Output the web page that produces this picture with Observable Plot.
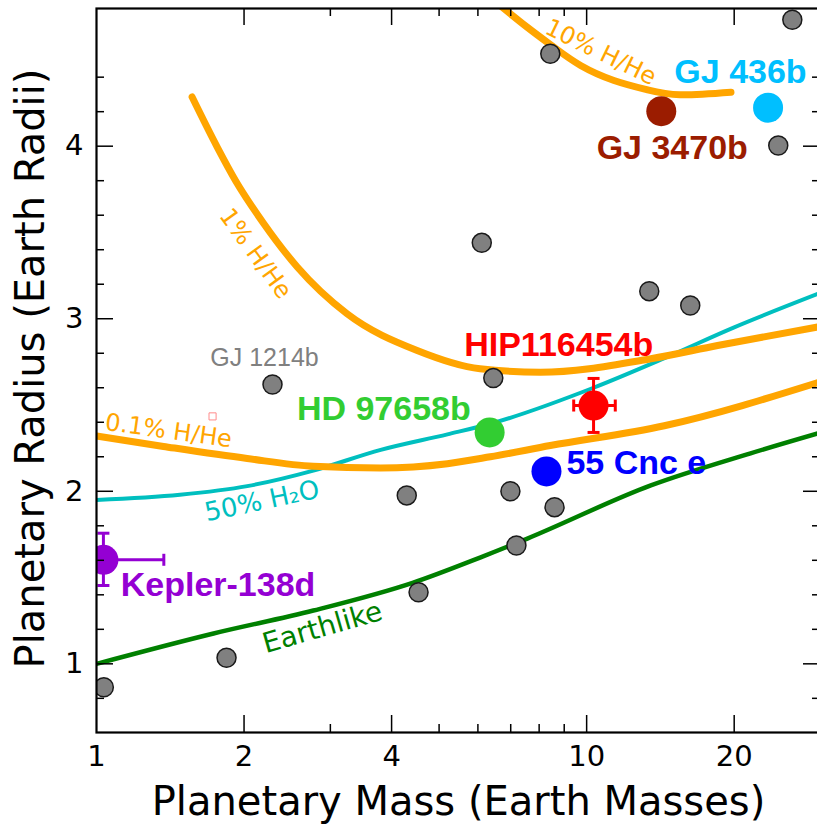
<!DOCTYPE html>
<html>
<head>
<meta charset="utf-8">
<script src="https://cdn.jsdelivr.net/npm/d3@7"></script>
<script src="https://cdn.jsdelivr.net/npm/@observablehq/plot@0.6"></script>
<style>
  html, body { margin: 0; padding: 0; background: white; }
</style>
</head>
<body>
<div id="chart"></div>
<script>
// ---------- axis ticks ----------
const massTicks = [1, 2, 4, 10, 20];
const massMajor = [2, 4, 10, 20];
const massMinor = [3, 5, 6, 7, 8, 9];
const radiusTicks = [1, 2, 3, 4];
const radiusMinor = [0.8, 1.2, 1.4, 1.6, 1.8, 2.2, 2.4, 2.6, 2.8, 3.2, 3.4, 3.6, 3.8, 4.2, 4.4];

// ---------- model curves ----------
const earthMass   = [1, 1.733, 2.77, 4.43, 6.06, 7.57, 13.52, 21.6, 30];
const earthRadius = [1.0, 1.176, 1.309, 1.471, 1.616, 1.726, 2.034, 2.22, 2.34];

const waterMass   = [1, 1.48, 2.03, 2.77, 3.8, 5.2, 6.34, 10.33, 14.37, 20, 30];
const waterRadius = [1.95, 1.98, 2.03, 2.12, 2.24, 2.33, 2.39, 2.60, 2.77, 2.95, 3.15];

const hhe01Mass   = [1, 1.37, 2.03, 2.77, 3.8, 5.2, 6.36, 8.43, 14.4, 30];
const hhe01Radius = [2.32, 2.26, 2.19, 2.145, 2.135, 2.16, 2.20, 2.265, 2.38, 2.635];

const hhe1Mass    = [1.567, 1.763, 1.922, 2.195, 2.568, 3.245, 4.51, 6.06, 8.05, 13.52, 18.5, 30];
const hhe1Radius  = [4.285, 3.995, 3.80, 3.551, 3.30, 3.029, 2.816, 2.71, 2.69, 2.768, 2.845, 2.955];

const hhe10Mass   = [6.5, 7.56, 8.57, 9.72, 11.37, 13.3, 15.5, 19.7];
const hhe10Radius = [4.84, 4.69, 4.574, 4.468, 4.381, 4.327, 4.298, 4.313];

// ---------- other known planets (grey) ----------
const greyMass   = [1.035, 1.842, 2.286, 4.295, 4.54, 6.11, 6.45, 6.99, 7.19, 8.43, 8.60, 13.42, 16.27, 24.6, 26.28];
const greyRadius = [0.864, 1.035, 2.619, 1.976, 1.415, 3.44, 2.656, 2.0, 1.686, 4.536, 1.908, 3.16, 3.077, 4.004, 4.733];

// ---------- highlighted planets ----------
const planetNames  = ["GJ 436b", "GJ 3470b", "HIP116454b", "HD 97658b", "55 Cnc e", "Kepler-138d"];
const planetMass   = [23.45, 14.2, 10.33, 6.34, 8.28, 1.033];
const planetRadius = [4.223, 4.203, 2.497, 2.341, 2.115, 1.603];
const planetColors = ["#00bfff", "#9b1c00", "#ff0000", "#32cd32", "#0000ff", "#9400d3"];
const labelMass    = [20.6, 14.95, 8.77, 3.857, 12.63, 1.77];
const labelRadius  = [4.427, 3.987, 2.845, 2.474, 2.164, 1.454];

// error bars (HIP116454b, Kepler-138d)
const errNames     = ["HIP116454b", "Kepler-138d"];
const errMass      = [10.33, 1.033];
const errRadius    = [2.497, 1.603];
const errMassLo    = [9.41, 0.5];
const errMassHi    = [11.44, 1.372];
const errRadiusLo  = [2.341, 1.454];
const errRadiusHi  = [2.654, 1.757];
const errColors    = ["#ff0000", "#9400d3"];

// GJ 1214b label
const gjLabel = ["GJ 1214b"];
const gjLabelMass = [2.202];
const gjLabelRadius = [2.773];

// curve labels
const curveLabels      = ["10% H/He", "1% H/He", "0.1% H/He", "50% H\u2082O", "Earthlike"];
const curveLabelMass   = [10.68, 2.11, 1.403, 2.177, 2.892];
const curveLabelRadius = [4.545, 3.377, 2.35, 1.943, 1.21];
const curveLabelAngle  = [26, 54, 8, -12, -16];
const curveLabelColor  = ["#ffa500", "#ffa500", "#ffa500", "#00bfbf", "#008000"];
const curveLabelSize   = [24, 24, 24, 26, 28];

// small marker near 0.1% label
const markMass = [1.725];
const markRadius = [2.434];

// ---------- build tables ----------
const rows = (ms, rs) => ms.map((m, i) => ({m, r: rs[i]}));
const planets = planetNames.map((name, i) => ({name, m: planetMass[i], r: planetRadius[i], color: planetColors[i], lm: labelMass[i], lr: labelRadius[i]}));
const errs = errNames.map((name, i) => ({name, m: errMass[i], r: errRadius[i], mlo: errMassLo[i], mhi: errMassHi[i], rlo: errRadiusLo[i], rhi: errRadiusHi[i], color: errColors[i]}));
const curveLab = curveLabels.map((t, i) => ({t, m: curveLabelMass[i], r: curveLabelRadius[i], a: curveLabelAngle[i], c: curveLabelColor[i], s: curveLabelSize[i]}));

const W = 817, H = 824;
const mL = 96, mT = 8, mB = 92, mR = -3;
const fW = W - mL - mR, fH = H - mT - mB;

const vcap = {draw(ctx, size) { const r = Math.sqrt(size / Math.PI); ctx.moveTo(0, -r); ctx.lineTo(0, r); }};
const hcap = {draw(ctx, size) { const r = Math.sqrt(size / Math.PI); ctx.moveTo(-r, 0); ctx.lineTo(r, 0); }};

const sans = "DejaVu Sans";
const arial = "Liberation Sans, Arial, sans-serif";

const chart = Plot.plot({
  width: W, height: H,
  marginLeft: mL, marginTop: mT, marginBottom: mB, marginRight: mR,
  style: {fontFamily: sans, background: "white", overflow: "hidden"},
  x: {type: "log", domain: [1, 30]},
  y: {type: "linear", domain: [0.602, 4.798]},
  marks: [
    // curves
    Plot.line(rows(earthMass, earthRadius), {x: "m", y: "r", stroke: "#008000", strokeWidth: 4.5, curve: "monotone-x", clip: true}),
    Plot.line(rows(waterMass, waterRadius), {x: "m", y: "r", stroke: "#00bfbf", strokeWidth: 4, curve: "monotone-x", clip: true}),
    Plot.line(rows(hhe01Mass, hhe01Radius), {x: "m", y: "r", stroke: "#ffa500", strokeWidth: 7, curve: "monotone-x", clip: true}),
    Plot.line(rows(hhe1Mass, hhe1Radius), {x: "m", y: "r", stroke: "#ffa500", strokeWidth: 7, curve: "monotone-x", clip: true}),
    Plot.line(rows(hhe10Mass, hhe10Radius), {x: "m", y: "r", stroke: "#ffa500", strokeWidth: 7, curve: "natural", clip: true}),

    // grey planets
    Plot.dot(rows(greyMass, greyRadius), {x: "m", y: "r", r: 9.5, fill: "#808080", stroke: "#1a1a1a", strokeWidth: 1.5, clip: true}),

    // error bars
    Plot.link(errs, {x1: "mlo", x2: "mhi", y1: "r", y2: "r", stroke: "color", strokeWidth: 3, clip: true}),
    Plot.link(errs, {x1: "m", x2: "m", y1: "rlo", y2: "rhi", stroke: "color", strokeWidth: 3, clip: true}),
    Plot.dot(errs, {x: "mlo", y: "r", symbol: vcap, r: 6, fill: "none", stroke: "color", strokeWidth: 3, clip: true}),
    Plot.dot(errs, {x: "mhi", y: "r", symbol: vcap, r: 6, fill: "none", stroke: "color", strokeWidth: 3, clip: true}),
    Plot.dot(errs, {x: "m", y: "rlo", symbol: hcap, r: 6, fill: "none", stroke: "color", strokeWidth: 3, clip: true}),
    Plot.dot(errs, {x: "m", y: "rhi", symbol: hcap, r: 6, fill: "none", stroke: "color", strokeWidth: 3, clip: true}),

    // highlighted planets
    Plot.dot(planets, {x: "m", y: "r", r: 15, fill: "color", stroke: "none", clip: true}),

    // small marker
    Plot.dot(rows(markMass, markRadius), {x: "m", y: "r", symbol: "square", r: 4, fill: "none", stroke: "#ff8c8c", strokeWidth: 1}),
    Plot.dot(rows(markMass, markRadius), {x: "m", y: "r", symbol: "plus", r: 2.2, fill: "#ff8c8c"}),

    // labels
    Plot.text(planets, {x: "lm", y: "lr", text: "name", fill: "color", fontFamily: arial, fontWeight: "bold", fontSize: 34, textAnchor: "middle", lineAnchor: "middle"}),
    Plot.text(rows(gjLabelMass, gjLabelRadius), {x: "m", y: "r", text: () => gjLabel[0], fill: "#808080", fontFamily: arial, fontSize: 25, textAnchor: "middle", lineAnchor: "middle"}),
    Plot.text(curveLab.filter(d => d.s === 24), {x: "m", y: "r", text: "t", fill: "c", rotate: "a", fontFamily: sans, fontSize: 24, textAnchor: "middle", lineAnchor: "middle"}),
    Plot.text(curveLab.filter(d => d.s === 26), {x: "m", y: "r", text: "t", fill: "c", rotate: "a", fontFamily: sans, fontSize: 26, textAnchor: "middle", lineAnchor: "middle"}),
    Plot.text(curveLab.filter(d => d.s === 28), {x: "m", y: "r", text: "t", fill: "c", rotate: "a", fontFamily: sans, fontSize: 28, textAnchor: "middle", lineAnchor: "middle"}),

    // inward ticks
    Plot.tickX(massMajor, {x: d => d, insetTop: fH - 17, stroke: "black", strokeWidth: 1.5}),
    Plot.tickX(massMajor, {x: d => d, insetBottom: fH - 17, stroke: "black", strokeWidth: 1.5}),
    Plot.tickX(massMinor, {x: d => d, insetTop: fH - 8, stroke: "black", strokeWidth: 1.5}),
    Plot.tickX(massMinor, {x: d => d, insetBottom: fH - 8, stroke: "black", strokeWidth: 1.5}),
    Plot.tickY(radiusTicks, {y: d => d, insetRight: fW - 17, stroke: "black", strokeWidth: 1.5}),
    Plot.tickY(radiusTicks, {y: d => d, insetLeft: fW - 17, stroke: "black", strokeWidth: 1.5}),
    Plot.tickY(radiusMinor, {y: d => d, insetRight: fW - 8, stroke: "black", strokeWidth: 1.5}),
    Plot.tickY(radiusMinor, {y: d => d, insetLeft: fW - 8, stroke: "black", strokeWidth: 1.5}),

    Plot.frame({stroke: "black", strokeWidth: 2.2}),

    // axes
    Plot.axisX({ticks: massTicks, tickFormat: d => String(d), tickSize: 0, tickPadding: 13, fontSize: 29, fontFamily: sans, label: null}),
    Plot.axisY({ticks: radiusTicks, tickFormat: d => String(d), tickSize: 0, tickPadding: 13, fontSize: 29, fontFamily: sans, label: null}),

    // axis titles
    Plot.text(["Planetary Mass (Earth Masses)"], {frameAnchor: "bottom", text: d => d, dy: 54, textAnchor: "middle", lineAnchor: "top", fontSize: 40, fontFamily: sans, fill: "black"}),
    Plot.text(["Planetary Radius (Earth Radii)"], {frameAnchor: "left", text: d => d, dx: -81, dy: -2, rotate: -90, textAnchor: "middle", lineAnchor: "top", fontSize: 40, fontFamily: sans, fill: "black"})
  ]
});

// clip data marks to the plotting frame
const svg = d3.select(chart);
svg.append("defs").append("clipPath").attr("id", "frame-clip")
  .append("rect").attr("x", mL).attr("y", mT).attr("width", fW).attr("height", fH);
svg.selectAll('g[aria-label="dot"], g[aria-label="line"], g[aria-label="link"]')
  .attr("clip-path", "url(#frame-clip)");

document.getElementById("chart").appendChild(chart);
</script>
</body>
</html>
